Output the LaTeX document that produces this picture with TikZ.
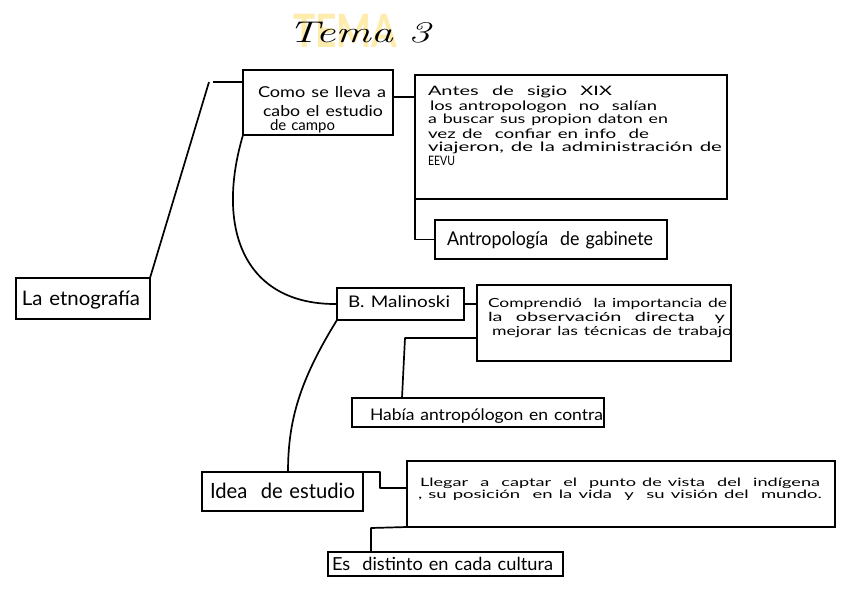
\documentclass[tikz,border=0pt]{standalone}
\usepackage{fontspec}
\usepackage{graphicx}
\newfontfamily\hand{Lato}
\newcommand{\hw}[2]{\resizebox{#1pt}{\height}{#2}}
\definecolor{hilite}{RGB}{253,236,172}
\tikzset{
  bx/.style={draw, line width=1.7pt, inner sep=0pt, outer sep=0pt, anchor=north west},
  txt/.style={anchor=base west, inner sep=0pt, outer sep=0pt, align=left, text width=460pt},
  conn/.style={line width=1.7pt, line join=round}
}
\begin{document}
\begin{tikzpicture}[x=1pt,y=-1pt]
\useasboundingbox[fill=white] (0,0) rectangle (848,599);

% title
\node[anchor=base west, inner sep=0pt, text=hilite, font={\hand\bfseries\fontsize{46}{46}\selectfont}] (titlebg) at (293,48) {\hw{104}{TEMA}};
\node[anchor=base west, inner sep=0pt, font={\itshape\fontsize{30}{30}\selectfont}] (title) at (288,43) {\hw{142}{Tema 3}};

% boxes
\node[bx, minimum width=134pt, minimum height=41pt] (etno) at (16,278) {};
\node[bx, minimum width=150pt, minimum height=65pt] (como) at (243,70) {};
\node[bx, minimum width=312pt, minimum height=124pt] (antes) at (415,75) {};
\node[bx, minimum width=232pt, minimum height=39pt] (gab) at (435,220) {};
\node[bx, minimum width=127pt, minimum height=32pt] (mal) at (337,288) {};
\node[bx, minimum width=254pt, minimum height=76pt] (comp) at (477,285) {};
\node[bx, minimum width=252pt, minimum height=29pt] (habia) at (352,398) {};
\node[bx, minimum width=161pt, minimum height=39pt] (idea) at (202,472) {};
\node[bx, minimum width=428pt, minimum height=66pt] (llegar) at (407,461) {};
\node[bx, minimum width=235pt, minimum height=24pt] (es) at (328,552) {};

% texts
\node[txt, font={\hand\fontsize{20}{20}\selectfont}] (tetno) at (22,305) {\hw{118}{La etnografía}};
\node[txt, font={\hand\fontsize{15}{20}\selectfont\lineskiplimit=-50pt}] (tcomo) at (258,97)
  {\hw{128}{Como se lleva a}\\ \hspace*{5pt}\hw{120}{cabo el estudio}\\[-6pt] \hspace*{12pt}\hw{65}{de campo}};
\node[txt, font={\hand\fontsize{13}{14}\selectfont\lineskiplimit=-50pt}] (tantes) at (428,96)
  {\hw{184}{Antes\ \ de\ \ sigio\ \ XIX}\\
   \hspace*{2pt}\hw{227}{los antropologon\ \ no\ \ salían}\\
   \hw{240}{a buscar sus propion daton en}\\
   \hw{221}{vez de\ \ confiar en info\ \ de}\\
   \hw{294}{viajeron, de la administración de}\\
   \hw{27}{EEVU}};
\node[txt, font={\hand\fontsize{19}{19}\selectfont}] (tgab) at (447,245) {\hw{206}{Antropología\ \ de gabinete}};
\node[txt, font={\hand\fontsize{16}{16}\selectfont}] (tmal) at (348,307) {\hw{102}{B. Malinoski}};
\node[txt, font={\hand\fontsize{12.5}{14}\selectfont\lineskiplimit=-50pt}] (tcomp) at (488,307)
  {\hw{239}{Comprendió\ \ la\ importancia de}\\
   \hw{237}{la\ \ observación\ \ directa\ \ \ y}\\
   \hspace*{4pt}\hw{240}{mejorar las técnicas de trabajo}};
\node[txt, font={\hand\fontsize{16}{16}\selectfont}] (thabia) at (370,420) {\hw{233}{Había antropólogon en contra}};
\node[txt, font={\hand\fontsize{21}{21}\selectfont}] (tidea) at (210,498) {\hw{145}{Idea\ \ de estudio}};
\node[txt, font={\hand\fontsize{11.5}{12}\selectfont\lineskiplimit=-50pt}] (tllegar) at (420,486)
  {\hw{400}{Llegar\ \ a\ \ captar\ \ el\ \ punto de vista\ \ del\ \ indígena}\\
   \hspace*{-2pt}\hw{404}{, su posición\ \ en la vida\ \ y\ \ su visión del\ \ mundo.}};
\node[txt, font={\hand\fontsize{18}{18}\selectfont}] (tes) at (332,570) {\hw{221}{Es\ \ distinto en cada cultura}};

% connectors
\coordinate (k0) at (209,82);
\draw[conn] (etno.north east) -- (k0);
\coordinate (k1) at (213,82);
\draw[conn] (k1) -- (k1 -| como.west);
\draw[conn] (como.south west) .. controls (215,230) and (245,305) .. (mal.west);
\coordinate (k2) at (400,97);
\draw[conn] (como.east |- k2) -- (antes.west |- k2);
\draw[conn] (antes.south west) -- (antes.south west |- gab.west) -- (gab.west);
\draw[conn] (mal.east) -- (mal.east -| comp.west);
\coordinate (k6) at (405,338);
\coordinate (k6b) at (402,398);
\draw[conn] (comp.west |- k6) -- (k6) -- (k6b |- habia.north);
\coordinate (k7) at (288,472);
\draw[conn] (mal.south west) .. controls (300,380) and (288,420) .. (k7 |- idea.north);
\coordinate (k8) at (380,488);
\draw[conn] (idea.north east) -| (k8) -- (k8 -| llegar.west);
\coordinate (k9) at (371,528);
\draw[conn] (llegar.south west) -- (k9) -- (k9 |- es.north);
\end{tikzpicture}
\end{document}
